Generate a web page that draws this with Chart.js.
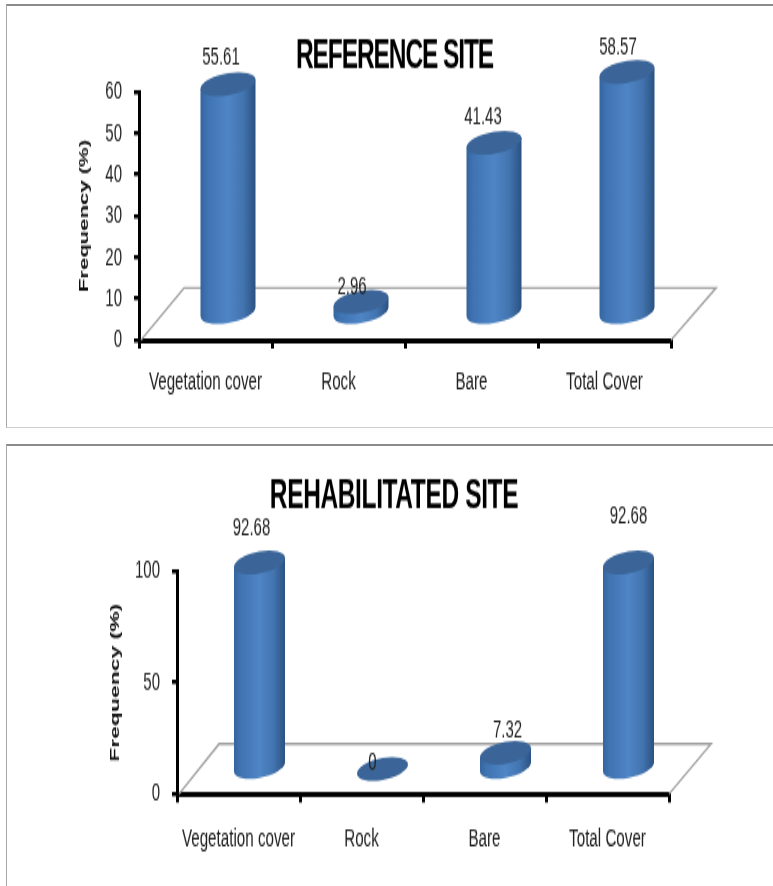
<!DOCTYPE html>
<html>
<head>
<meta charset="utf-8">
<script src="https://cdn.jsdelivr.net/npm/chart.js@4"></script>
<style>
html,body{margin:0;padding:0;background:#fff;width:773px;height:886px;overflow:hidden}
.panel{position:absolute;left:6px;right:0;box-sizing:border-box;border-left:1px solid #a8a8a8}
#p1{top:4px;height:424px;border-top:2px solid #8c8c8c;border-bottom:1px solid #cfcfcf}
#p2{top:444px;height:442px;border-top:2px solid #8c8c8c}
.wrap{position:absolute;left:0;transform:scaleY(1.7);transform-origin:0 0}
.wrap canvas{display:block}
#w1{top:0}
#w2{top:440px}
</style>
</head>
<body>
<div class="panel" id="p1"></div>
<div class="panel" id="p2"></div>
<div class="wrap" id="w1"><canvas id="c1" width="773" height="256"></canvas></div>
<div class="wrap" id="w2"><canvas id="c2" width="773" height="263"></canvas></div>
<script>
const categories = ["Vegetation cover", "Rock", "Bare", "Total Cover"];
const referenceValues = [55.61, 2.96, 41.43, 58.57];
const rehabilitatedValues = [92.68, 0, 7.32, 92.68];
const referenceTitle = "REFERENCE SITE";
const rehabilitatedTitle = "REHABILITATED SITE";
const yAxisTitle = "Frequency (%)";

const STRETCH = 1.7;
const FONT = "'Liberation Sans', Arial, sans-serif";

const cylinderPlugin = {
  id: 'cylinder',
  beforeDatasetsDraw(chart, args, o) {
    const ctx = chart.ctx, a = chart.chartArea;
    ctx.save();
    ctx.strokeStyle = '#a2a2a2';
    ctx.lineWidth = 1.4;
    ctx.beginPath();
    ctx.moveTo(a.left + 2, a.bottom);
    ctx.lineTo(a.left + o.depthX, a.bottom - o.depthY);
    ctx.lineTo(a.right + o.depthX, a.bottom - o.depthY);
    ctx.lineTo(a.right, a.bottom);
    ctx.stroke();
    ctx.restore();
  },
  afterDatasetsDraw(chart, args, o) {
    const ctx = chart.ctx;
    const meta = chart.getDatasetMeta(0);
    const values = chart.data.datasets[0].data;
    meta.data.forEach((bar, i) => {
      const cx = bar.x + o.depthX / 2;
      const top = bar.y - o.depthY / 2;
      const base = bar.base - o.depthY / 2;
      const A = bar.width / 2, B = o.ellipseB, S = o.shear;
      const slope = -S / A;
      ctx.save();
      const grad = ctx.createLinearGradient(cx - A, 0, cx + A, 0);
      grad.addColorStop(0, '#35659e');
      grad.addColorStop(0.12, '#3f73b2');
      grad.addColorStop(0.5, '#4f85c6');
      grad.addColorStop(0.78, '#4274af');
      grad.addColorStop(1, '#2b5282');
      ctx.transform(1, slope, 0, 1, 0, -slope * cx);
      if (base - top > 0.01) {
        ctx.beginPath();
        ctx.moveTo(cx - A, top);
        ctx.lineTo(cx - A, base);
        ctx.ellipse(cx, base, A, B, 0, Math.PI, 0, true);
        ctx.lineTo(cx + A, top);
        ctx.closePath();
        ctx.fillStyle = grad;
        ctx.fill();
      }
      ctx.beginPath();
      ctx.ellipse(cx, top, A, B, 0, 0, Math.PI * 2);
      ctx.fillStyle = '#3b6598';
      ctx.fill();
      ctx.restore();

      const nudge = o.labelNudge[i];
      ctx.save();
      ctx.fillStyle = '#222';
      ctx.font = "15px " + FONT;
      ctx.textAlign = 'center';
      ctx.textBaseline = 'middle';
      ctx.fillText(String(values[i]), cx + nudge[0], top + nudge[1] / STRETCH);
      ctx.restore();
    });
    // chart heading
    ctx.save();
    ctx.fillStyle = '#000';
    ctx.font = o.titleFont;
    ctx.letterSpacing = o.titleSpacing;
    ctx.textAlign = 'center';
    ctx.textBaseline = 'middle';
    ctx.fillText(o.title, o.titleX, o.titleY / STRETCH);
    ctx.restore();
  }
};

function buildChart(id, values, cfg) {
  new Chart(document.getElementById(id), {
    type: 'bar',
    data: {
      labels: categories,
      datasets: [{
        data: values,
        backgroundColor: 'rgba(79,134,200,0)',
        barThickness: cfg.barWidth
      }]
    },
    plugins: [cylinderPlugin],
    options: {
      responsive: false,
      animation: false,
      layout: { padding: { left: cfg.titleLeft, right: 773 - cfg.right, top: cfg.top / STRETCH, bottom: 0 } },
      plugins: {
        legend: { display: false },
        tooltip: { enabled: false },
        title: { display: false },
        cylinder: {
          depthX: cfg.depthX,
          depthY: cfg.depthY / STRETCH,
          ellipseB: 11 / STRETCH,
          shear: 4.5 / STRETCH,
          labelNudge: cfg.labelNudge,
          title: cfg.title,
          titleX: cfg.titleX,
          titleY: cfg.titleY,
          titleFont: cfg.titleFont,
          titleSpacing: cfg.titleSpacing
        }
      },
      scales: {
        x: {
          afterFit(s) { s.height = cfg.canvasH - cfg.bottom / STRETCH; },
          border: { display: true, color: '#000', width: 3 },
          grid: { display: true, drawOnChartArea: false, drawTicks: true, tickLength: 5, color: '#000', lineWidth: 3 },
          ticks: { color: '#222', font: { family: FONT, size: 15.2 }, padding: cfg.xTickPad, maxRotation: 0, autoSkip: false }
        },
        y: {
          min: 0,
          max: cfg.max,
          afterFit(s) { s.width = cfg.left - cfg.titleLeft; },
          border: { display: true, color: '#000', width: 3 },
          grid: { display: true, drawOnChartArea: false, drawTicks: true, tickLength: 5, color: '#000', lineWidth: 2.5 },
          ticks: { stepSize: cfg.step, color: '#222', font: { family: FONT, size: 15 }, padding: 12 },
          title: {
            display: true,
            text: yAxisTitle,
            color: '#111',
            font: { family: FONT, size: cfg.axisTitleSize, weight: 'bold' },
            padding: 0
          }
        }
      }
    }
  });
}

buildChart('c1', referenceValues, {
  canvasH: 256, max: 60, step: 10,
  left: 139, right: 671, top: 92, bottom: 340, titleLeft: 77, xTickPad: 11,
  barWidth: 55, depthX: 45, depthY: 52, axisTitleSize: 13,
  title: referenceTitle, titleX: 394.5, titleY: 56,
  titleFont: "bold 24.5px " + FONT, titleSpacing: '-1.1px',
  labelNudge: [[-7, -26], [-9, -15], [-11, -25], [-9, -24]]
});

buildChart('c2', rehabilitatedValues, {
  canvasH: 263, max: 100, step: 50,
  left: 177, right: 669, top: 131, bottom: 354, titleLeft: 107, xTickPad: 12.7,
  barWidth: 51, depthX: 42, depthY: 50, axisTitleSize: 13.5,
  title: rehabilitatedTitle, titleX: 394, titleY: 57,
  titleFont: "bold 24.5px " + FONT, titleSpacing: '-0.37px',
  labelNudge: [[-8, -35], [-10, -7], [2, -22], [0, -46]]
});
</script>
</body>
</html>
